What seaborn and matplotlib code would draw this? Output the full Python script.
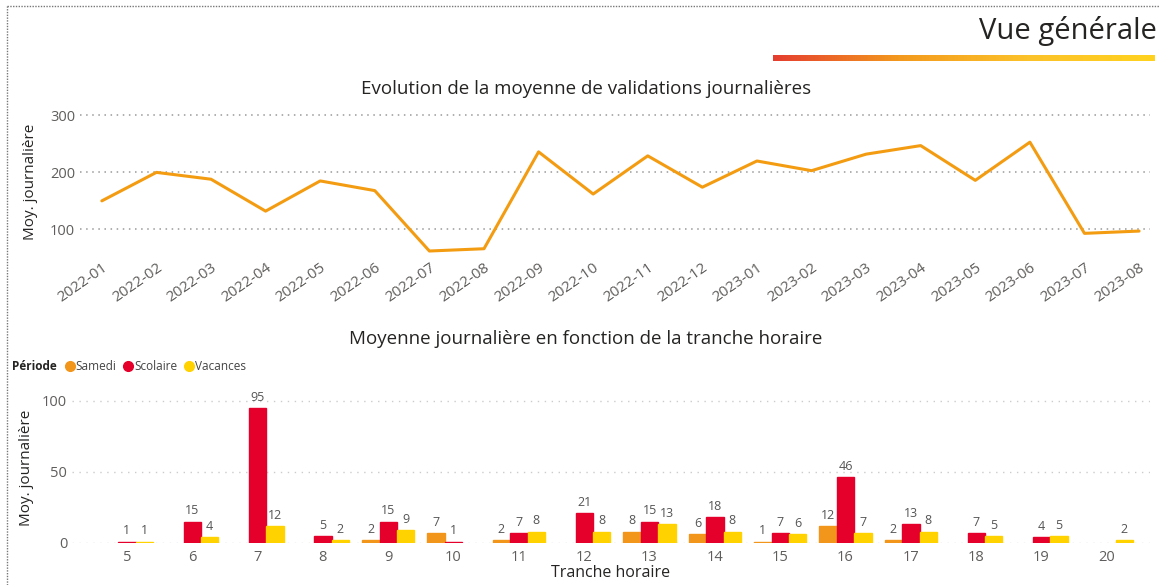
import pandas as pd
import numpy as np
import matplotlib.pyplot as plt
import seaborn as sns
from matplotlib.colors import LinearSegmentedColormap
from matplotlib.lines import Line2D

# donnees : moyenne journaliere par mois
mois = ['2022-01', '2022-02', '2022-03', '2022-04', '2022-05', '2022-06', '2022-07',
        '2022-08', '2022-09', '2022-10', '2022-11', '2022-12', '2023-01', '2023-02',
        '2023-03', '2023-04', '2023-05', '2023-06', '2023-07', '2023-08']
moy_mois = [150, 200, 188, 132, 185, 168, 62, 66, 236, 162, 229, 174, 220, 203,
            232, 247, 186, 253, 93, 97]

# donnees : moyenne journaliere par tranche horaire et periode
heures = [5, 6, 7, 8, 9, 10, 11, 12, 13, 14, 15, 16, 17, 18, 19, 20]
periodes = ['Samedi', 'Scolaire', 'Vacances']
samedi = [None, None, None, None, 2, 7, 2, None, 8, 6, 1, 12, 2, None, None, None]
scolaire = [1, 15, 95, 5, 15, 1, 7, 21, 15, 18, 7, 46, 13, 7, 4, None]
vacances = [1, 4, 12, 2, 9, None, 8, 8, 13, 8, 6, 7, 8, 5, 5, 2]

couleurs = {'Samedi': '#F2951B', 'Scolaire': '#E5002B', 'Vacances': '#FFD200'}

df_line = pd.DataFrame({'mois': mois, 'moy': moy_mois})
rows = []
for p, vals in zip(periodes, [samedi, scolaire, vacances]):
    for h, v in zip(heures, vals):
        rows.append({'heure': str(h), 'periode': p, 'moy': v})
df_bar = pd.DataFrame(rows).dropna()

sns.set_theme(style='white')
plt.rcParams['font.family'] = ['Open Sans', 'DejaVu Sans']

W, H = 1160, 585
fig = plt.figure(figsize=(W / 100, H / 100), dpi=100)


def px_axes(left, top, right, bottom):
    return fig.add_axes([left / W, 1 - bottom / H, (right - left) / W, (bottom - top) / H])


tick_col = '#605E5C'
title_col = '#252423'

# ---- graphique du haut ----
ax1 = px_axes(80, 108, 1150, 255)
sns.lineplot(data=df_line, x='mois', y='moy', color='#F39C12', linewidth=2.2, sort=False, ax=ax1)
ax1.set_xlim(-0.4, 19.2)
ax1.set_ylim(55, 313)
ax1.set_yticks([100, 200, 300])
ax1.grid(axis='y', linestyle=(0, (1, 3)), color='#999999', linewidth=1.1)
ax1.grid(axis='x', visible=False)
for s in ax1.spines.values():
    s.set_visible(False)
ax1.tick_params(axis='both', length=0, colors=tick_col, labelsize=10.5)
ax1.tick_params(axis='x', labelsize=11, pad=4)
plt.setp(ax1.get_xticklabels(), rotation=35, ha='right', rotation_mode='anchor')
ax1.set_xlabel('')
ax1.set_ylabel('Moy. journalière', fontsize=11, color=title_col, labelpad=9)
fig.text(586 / W, 1 - 89 / H, 'Evolution de la moyenne de validations journalières',
         ha='center', va='center', fontsize=13.5, color=title_col)

# ---- graphique du bas ----
ax2 = px_axes(72, 392, 1150, 543)
sns.barplot(data=df_bar, x='heure', y='moy', hue='periode', hue_order=periodes,
            order=[str(h) for h in heures], palette=couleurs, width=0.8, saturation=1,
            legend=False, ax=ax2)
# petit contour pour que les barres a 1 restent visibles
for patch in ax2.patches:
    patch.set_edgecolor(patch.get_facecolor())
    patch.set_linewidth(1)
for c in ax2.containers:
    ax2.bar_label(c, fmt='%d', fontsize=9, color='#555555', padding=3)
ax2.set_xlim(-0.84, 15.66)
ax2.set_ylim(0, 106)
ax2.set_yticks([0, 50, 100])
ax2.grid(axis='y', linestyle=(0, (1, 4)), color='#cccccc', linewidth=1)
ax2.grid(axis='x', visible=False)
ax2.set_axisbelow(True)
for s in ax2.spines.values():
    s.set_visible(False)
ax2.tick_params(axis='both', length=0, colors=tick_col, labelsize=10.5)
ax2.tick_params(axis='x', pad=5)
ax2.set_xlabel('Tranche horaire', fontsize=11.5, color=title_col, labelpad=0)
ax2.set_ylabel('Moy. journalière', fontsize=11, color=title_col, labelpad=6)
fig.text(586 / W, 1 - 339 / H, 'Moyenne journalière en fonction de la tranche horaire',
         ha='center', va='center', fontsize=13.5, color=title_col)

# legende
fig.text(12 / W, 1 - 367 / H, 'Période', ha='left', va='center', fontsize=8.5,
         fontweight='bold', color=title_col)
handles = [Line2D([], [], marker='o', linestyle='', markersize=7,
                  markerfacecolor=couleurs[p], markeredgecolor=couleurs[p]) for p in periodes]
fig.legend(handles, periodes, loc='center left', bbox_to_anchor=(64 / W, 1 - 367 / H),
           ncol=3, frameon=False, fontsize=8.5, handletextpad=0.0, columnspacing=0.5,
           handlelength=1.0, borderaxespad=0, borderpad=0, labelcolor='#444444')

# ---- en-tete ----
fig.text(1157 / W, 1 - 31 / H, 'Vue générale', ha='right', va='center',
         fontsize=21, color='#252423')
grad_ax = px_axes(773, 55, 1155, 61)
cmap = LinearSegmentedColormap.from_list('vg', ['#E53D2F', '#F39A1E', '#FCC22A', '#FFD21F'])
grad_ax.imshow(np.linspace(0, 1, 256)[None, :], aspect='auto', cmap=cmap)
grad_ax.axis('off')

# bordure pointillee
fig.add_artist(Line2D([7 / W, 1], [1 - 6 / H, 1 - 6 / H], transform=fig.transFigure,
                      color='#777777', linestyle=(0, (1, 1)), linewidth=1))
fig.add_artist(Line2D([7 / W, 7 / W], [0, 1 - 6 / H], transform=fig.transFigure,
                      color='#777777', linestyle=(0, (1, 1)), linewidth=1))

fig.savefig('out.png', dpi=100)
